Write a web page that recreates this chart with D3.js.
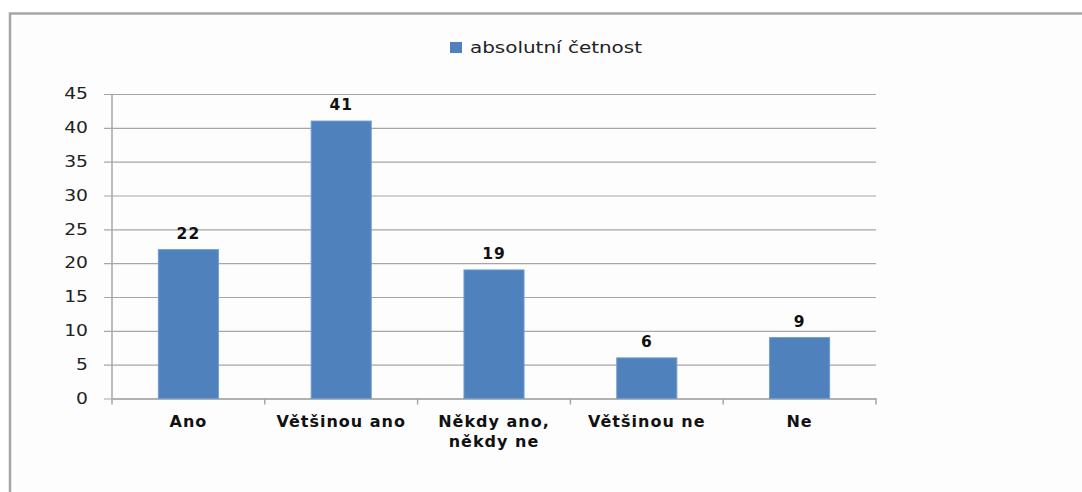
<!DOCTYPE html>
<html>
<head>
<meta charset="utf-8">
<script src="https://cdn.jsdelivr.net/npm/d3@7"></script>
<style>
  body { margin: 0; background: #fff; }
  svg { display: block; }
  text { font-family: "DejaVu Sans", Verdana, sans-serif; }
</style>
</head>
<body>
<svg></svg>
<script>
let categories = ['Ano', 'Většinou ano', 'Někdy ano, někdy ne', 'Většinou ne', 'Ne']
let labelLines = [['Ano'], ['Většinou ano'], ['Někdy ano,', 'někdy ne'], ['Většinou ne'], ['Ne']]
let values = [22, 41, 19, 6, 9]
let yTicks = [0, 5, 10, 15, 20, 25, 30, 35, 40, 45]
let seriesName = 'absolutní četnost'

let width = 1082
let height = 492
let plotLeft = 112
let plotRight = 876
let plotTop = 94
let plotBottom = 398.5

let svg = d3.select('svg')
    .attr('width', width)
    .attr('height', height)

// frame of the chart area
svg.append('rect')
    .attr('x', 10)
    .attr('y', 13.5)
    .attr('width', 1100)
    .attr('height', 600)
    .attr('fill', '#fdfdfd')
    .attr('stroke', '#a6a6a6')
    .attr('stroke-width', 2.5)

let xScale = d3.scaleBand()
    .domain(categories)
    .range([plotLeft, plotRight])

let yScale = d3.scaleLinear()
    .domain([0, 45])
    .range([plotBottom, plotTop])

// gridlines + y axis
let yAxis = d3.axisLeft(yScale)
    .tickValues(yTicks)
    .tickSize(-(plotRight - plotLeft))

let yG = svg.append('g')
    .attr('transform', 'translate(' + plotLeft + ',0)')
    .call(yAxis)
yG.select('.domain').remove()
yG.selectAll('.tick line')
    .attr('x1', -8)
    .attr('stroke', '#a6a6a6')
    .attr('stroke-width', 1.2)
yG.selectAll('.tick text')
    .attr('font-size', 15)
    .attr('fill', '#222')
    .attr('transform', 'scale(1.25,1)')
    .attr('x', -24 / 1.25)
    .attr('dx', 0)

// y axis line
svg.append('line')
    .attr('x1', plotLeft).attr('x2', plotLeft)
    .attr('y1', plotTop).attr('y2', plotBottom)
    .attr('stroke', '#a6a6a6')
    .attr('stroke-width', 1.5)

// x axis
let xAxis = d3.axisBottom(xScale)
    .tickValues([])
    .tickSizeOuter(0)
let xG = svg.append('g')
    .attr('transform', 'translate(0,' + plotBottom + ')')
    .call(xAxis)
xG.select('.domain')
    .attr('stroke', '#a6a6a6')
    .attr('stroke-width', 1.5)

let boundaries = categories.map(c => xScale(c)).concat([plotRight])
svg.selectAll('.xtick')
    .data(boundaries)
    .enter()
    .append('line')
    .attr('x1', d => d).attr('x2', d => d)
    .attr('y1', plotBottom).attr('y2', plotBottom + 6)
    .attr('stroke', '#a6a6a6')
    .attr('stroke-width', 1.5)

// category labels
let catG = svg.selectAll('.cat')
    .data(categories)
    .enter()
    .append('text')
    .attr('text-anchor', 'middle')
    .attr('font-size', 16)
    .attr('letter-spacing', 1)
    .attr('font-weight', 'bold')
    .attr('fill', '#111')
catG.selectAll('tspan')
    .data((d, i) => labelLines[i].map(l => ({ l: l, c: d })))
    .enter()
    .append('tspan')
    .attr('x', d => xScale(d.c) + xScale.bandwidth() / 2)
    .attr('y', (d, j) => 427 + j * 20)
    .text(d => d.l)

// bars
let barW = xScale.bandwidth() * 0.393
svg.selectAll('.bar')
    .data(values)
    .enter()
    .append('rect')
    .attr('x', (d, i) => xScale(categories[i]) + (xScale.bandwidth() - barW) / 2)
    .attr('y', d => yScale(d))
    .attr('width', barW)
    .attr('height', d => yScale(0) - yScale(d))
    .attr('fill', '#4f81bd')
    .attr('stroke', '#6f9bd1')
    .attr('stroke-width', 1)

// value labels
svg.selectAll('.val')
    .data(values)
    .enter()
    .append('text')
    .attr('x', (d, i) => xScale(categories[i]) + xScale.bandwidth() / 2)
    .attr('y', d => yScale(d) - 11)
    .attr('text-anchor', 'middle')
    .attr('font-size', 15.5)
    .attr('letter-spacing', 1)
    .attr('font-weight', 'bold')
    .attr('fill', '#111')
    .text(d => d)

// legend
let legend = svg.append('g')
    .attr('transform', 'translate(450,42)')
legend.append('rect')
    .attr('width', 12)
    .attr('height', 11)
    .attr('fill', '#4f81bd')
legend.append('text')
    .attr('x', 20)
    .attr('y', 11)
    .attr('font-size', 16)
    .attr('fill', '#222')
    .attr('textLength', 172)
    .attr('lengthAdjust', 'spacingAndGlyphs')
    .text(seriesName)
</script>
</body>
</html>
